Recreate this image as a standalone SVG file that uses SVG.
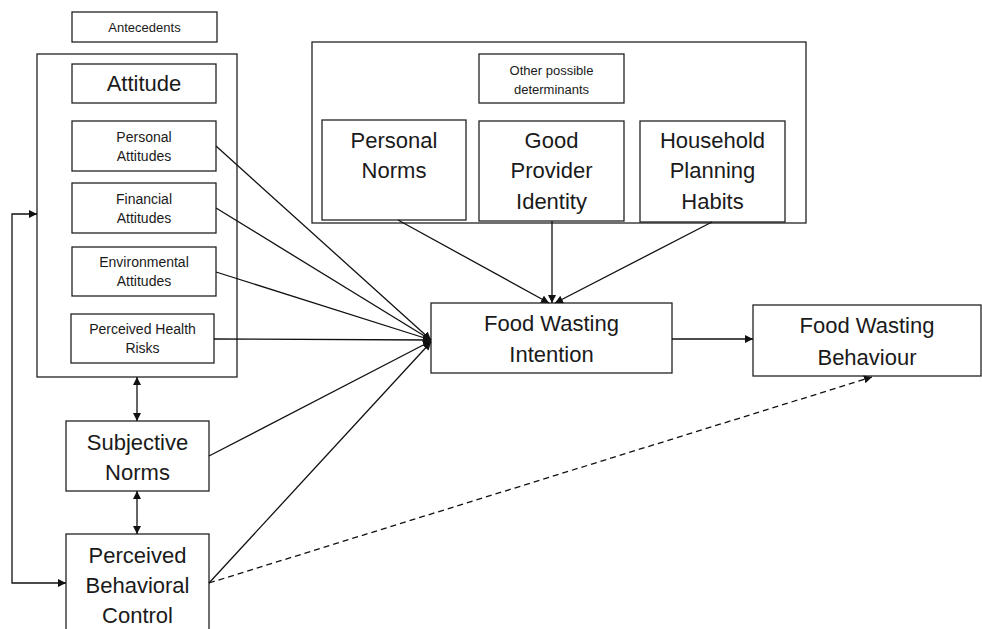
<svg xmlns="http://www.w3.org/2000/svg" width="982" height="629" viewBox="0 0 982 629">
<style>
.box{fill:#fff;stroke:#222;stroke-width:1.3}
.frame{fill:none;stroke:#222;stroke-width:1.3}
text{font-family:"Liberation Sans","Open Sans",sans-serif;fill:#1a1a1a;text-anchor:middle;dominant-baseline:central}
.s{font-size:14px}
.xs{font-size:13px}
.l{font-size:22px}
.c{fill:none;stroke:#111;stroke-width:1.3}
</style>
<defs>
<marker id="ah" viewBox="0 0 10 10" refX="10" refY="5" markerWidth="8" markerHeight="8" markerUnits="userSpaceOnUse" orient="auto-start-reverse">
<path d="M0,0 L10,5 L0,10 z" fill="#111"/>
</marker>
</defs>
<rect width="982" height="629" fill="#fff"/>
<g id="antecedents"><rect class="box" x="72" y="12" width="145" height="30"/><text class="xs" x="144.5" y="27">Antecedents</text></g>
<g id="attitude-group"><rect class="frame" x="37" y="54" width="200" height="323"/></g>
<g id="attitude"><rect class="box" x="72" y="64" width="144" height="39"/><text class="l" x="144" y="83">Attitude</text></g>
<g id="personal-attitudes"><rect class="box" x="72" y="121" width="144" height="50"/><text class="s" x="144" y="137">Personal</text><text class="s" x="144" y="156">Attitudes</text></g>
<g id="financial-attitudes"><rect class="box" x="72" y="183" width="144" height="50"/><text class="s" x="144" y="199">Financial</text><text class="s" x="144" y="218">Attitudes</text></g>
<g id="environmental-attitudes"><rect class="box" x="72" y="247" width="144" height="49"/><text class="s" x="144" y="262">Environmental</text><text class="s" x="144" y="281">Attitudes</text></g>
<g id="perceived-health-risks"><rect class="box" x="71" y="314" width="143" height="49"/><text class="s" x="142.5" y="329">Perceived Health</text><text class="s" x="142.5" y="348">Risks</text></g>
<g id="subjective-norms"><rect class="box" x="66" y="421" width="143" height="70"/><text class="l" x="137.5" y="442">Subjective</text><text class="l" x="137.5" y="472">Norms</text></g>
<g id="pbc"><rect class="box" x="66" y="534" width="143" height="110"/><text class="l" x="137.5" y="555">Perceived</text><text class="l" x="137.5" y="585">Behavioral</text><text class="l" x="137.5" y="615">Control</text></g>
<g id="other-determinants-group"><rect class="frame" x="312" y="42" width="494" height="181"/></g>
<g id="other-determinants"><rect class="box" x="479" y="54" width="145" height="49"/><text class="xs" x="551.5" y="70">Other possible</text><text class="xs" x="551.5" y="89">determinants</text></g>
<g id="personal-norms"><rect class="box" x="322" y="120" width="144" height="100"/><text class="l" x="394" y="140">Personal</text><text class="l" x="394" y="170">Norms</text></g>
<g id="good-provider"><rect class="box" x="479" y="121" width="145" height="100"/><text class="l" x="551.5" y="140">Good</text><text class="l" x="551.5" y="170">Provider</text><text class="l" x="551.5" y="201">Identity</text></g>
<g id="household-planning"><rect class="box" x="640" y="121" width="145" height="101"/><text class="l" x="712.5" y="140">Household</text><text class="l" x="712.5" y="170">Planning</text><text class="l" x="712.5" y="201">Habits</text></g>
<g id="intention"><rect class="box" x="431" y="303" width="241" height="70"/><text class="l" x="551.5" y="323">Food Wasting</text><text class="l" x="551.5" y="354">Intention</text></g>
<g id="behaviour"><rect class="box" x="753" y="305" width="228" height="71"/><text class="l" x="867" y="325">Food Wasting</text><text class="l" x="867" y="357">Behaviour</text></g>
<g id="connectors">
<path class="c" d="M216,146 L431,340" marker-end="url(#ah)"/>
<path class="c" d="M216,208 L431,340" marker-end="url(#ah)"/>
<path class="c" d="M216,272 L431,340" marker-end="url(#ah)"/>
<path class="c" d="M214,339 L431,340" marker-end="url(#ah)"/>
<path class="c" d="M209,456 L431,341" marker-end="url(#ah)"/>
<path class="c" d="M209,583 L431,342" marker-end="url(#ah)"/>
<path class="c" d="M398,220 L549,303" marker-end="url(#ah)"/>
<path class="c" d="M552,221 L552,303" marker-end="url(#ah)"/>
<path class="c" d="M712,222 L555,303" marker-end="url(#ah)"/>
<path class="c" d="M672,339 L753,339" marker-end="url(#ah)"/>
<path class="c" d="M209,583 L872,377" stroke-dasharray="6,4" marker-end="url(#ah)"/>
<path class="c" d="M137,377 L137,421" marker-start="url(#ah)" marker-end="url(#ah)"/>
<path class="c" d="M137,491 L137,534" marker-start="url(#ah)" marker-end="url(#ah)"/>
<path class="c" d="M37,214 L12,214 L12,583 L66,583" marker-start="url(#ah)" marker-end="url(#ah)"/>
</g>
</svg>
